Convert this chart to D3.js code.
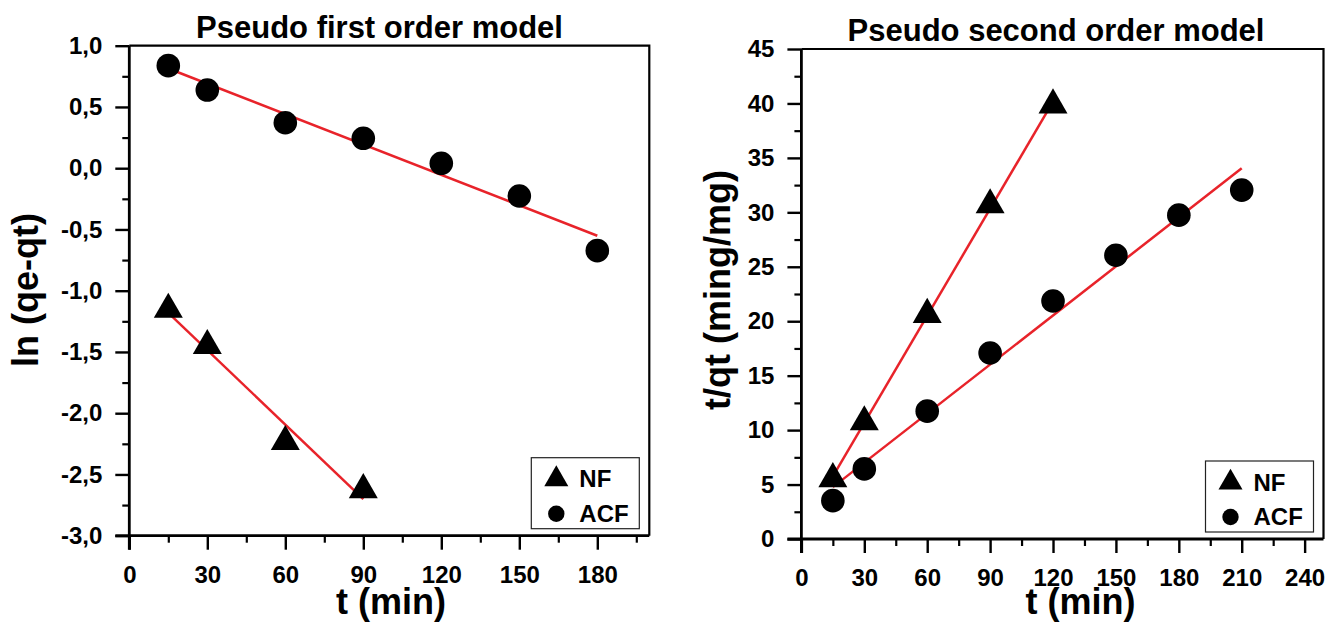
<!DOCTYPE html>
<html>
  <head>
    <meta charset="utf-8">
    <script type="text/javascript" src="https://cdn.jsdelivr.net/npm/d3@7"></script>
    <style type="text/css">
      body {
        margin: 0;
        background: #ffffff;
      }
      svg text {
        font-family: "Liberation Sans", Arial, sans-serif;
        font-weight: bold;
        fill: #000000;
      }
    </style>
  </head>
  <body>
    <script type="text/javascript">

      // ---- data ----
      // pseudo first order: ln(qe-qt) against t
      var pfoNFTime = [15, 30, 60, 90];
      var pfoNFValue = [-1.153, -1.449, -2.233, -2.625];
      var pfoACFTime = [15, 30, 60, 90, 120, 150, 180];
      var pfoACFValue = [0.837, 0.638, 0.371, 0.244, 0.04, -0.227, -0.673];

      // pseudo second order: t/qt against t
      var psoNFTime = [15, 30, 60, 90, 120];
      var psoNFValue = [5.53, 10.75, 20.61, 30.68, 39.85];
      var psoACFTime = [15, 30, 60, 90, 120, 150, 180, 210];
      var psoACFValue = [3.52, 6.44, 11.74, 17.08, 21.86, 26.06, 29.74, 32.04];

      // tick labels
      var pfoXTicks = [0, 30, 60, 90, 120, 150, 180];
      var pfoYTicks = [-3, -2.5, -2, -1.5, -1, -0.5, 0, 0.5, 1];
      var psoXTicks = [0, 30, 60, 90, 120, 150, 180, 210, 240];
      var psoYTicks = [0, 5, 10, 15, 20, 25, 30, 35, 40, 45];

      var seriesNames = ["NF", "ACF"];

      var width = 1327;
      var height = 622;
      var fitColor = "#e8232a";

      var svg = d3.select("body")
                  .append("svg")
                  .attr("width", width)
                  .attr("height", height);

      // least squares line through the points, returns [[x0,y0],[x1,y1]]
      const fitLine = function(xs, ys){
          let mx = d3.mean(xs);
          let my = d3.mean(ys);
          let sxy = 0;
          let sxx = 0;
          for (let i = 0; i < xs.length; i++){
              sxy += (xs[i] - mx) * (ys[i] - my);
              sxx += (xs[i] - mx) * (xs[i] - mx);
          }
          let slope = sxy / sxx;
          let x0 = d3.min(xs);
          let x1 = d3.max(xs);
          return [[x0, my + slope * (x0 - mx)], [x1, my + slope * (x1 - mx)]];
      };

      // minor ticks sit halfway between the major ones
      const halfSteps = function(ticks, extra){
          let out = [];
          let step = ticks[1] - ticks[0];
          let n = ticks.length - 1 + (extra || 0);
          for (let i = 0; i < n; i++){
              out.push(ticks[0] + step * (i + 0.5));
          }
          return out;
      };

      var commaFormat = function(d){
          return d3.format(".1f")(d).replace(".", ",").replace("−", "-");
      };

      const drawPanel = function(p){
          var xScale = d3.scaleLinear()
                         .domain(p.xDomain)
                         .range([p.left, p.right]);
          var yScale = d3.scaleLinear()
                         .domain(p.yDomain)
                         .range([p.bottom, p.top]);

          var g = svg.append("g");

          // top and right frame lines
          g.append("path")
           .attr("d", "M" + p.left + "," + p.top + "H" + p.right + "V" + p.bottom)
           .attr("fill", "none")
           .attr("stroke", "#000")
           .attr("stroke-width", 2.2);

          // minor ticks first, majors with labels on top
          g.append("g")
           .attr("transform", "translate(0," + p.bottom + ")")
           .call(d3.axisBottom(xScale).tickValues(p.xMinor).tickSize(7).tickFormat(""))
           .call(function(a){ a.select(".domain").remove(); })
           .selectAll("line").attr("stroke-width", 2.2);
          g.append("g")
           .attr("transform", "translate(" + p.left + ",0)")
           .call(d3.axisLeft(yScale).tickValues(p.yMinor).tickSize(7).tickFormat(""))
           .call(function(a){ a.select(".domain").remove(); })
           .selectAll("line").attr("stroke-width", 2.2);

          var xAxis = g.append("g")
                       .attr("transform", "translate(0," + p.bottom + ")")
                       .call(d3.axisBottom(xScale)
                               .tickValues(p.xTicks)
                               .tickSize(14)
                               .tickSizeOuter(0)
                               .tickPadding(16)
                               .tickFormat(d3.format("d")));
          var yAxis = g.append("g")
                       .attr("transform", "translate(" + p.left + ",0)")
                       .call(d3.axisLeft(yScale)
                               .tickValues(p.yTicks)
                               .tickSize(14)
                               .tickSizeOuter(0)
                               .tickPadding(13)
                               .tickFormat(p.yFormat));
          [xAxis, yAxis].forEach(function(a){
              a.select(".domain").attr("stroke-width", 2.8);
              a.selectAll("line").attr("stroke-width", 2.4);
              a.selectAll("text")
               .style("font-size", "24px")
               .style("font-family", "'Liberation Sans', Arial, sans-serif")
               .style("font-weight", "bold")
               .attr("fill", "#000");
          });
          // extend the domain lines so the corner is closed
          xAxis.select(".domain").attr("d", "M" + (p.left - 14) + ",0H" + p.right);
          yAxis.select(".domain").attr("d", "M0," + (p.bottom + 14) + "V" + p.top);

          // fitted lines
          var line = d3.line()
                       .x(function(d){ return xScale(d[0]); })
                       .y(function(d){ return yScale(d[1]); });
          [fitLine(p.nfT, p.nfV), fitLine(p.acfT, p.acfV)].forEach(function(f){
              g.append("path")
               .attr("d", line(f))
               .attr("fill", "none")
               .attr("stroke", fitColor)
               .attr("stroke-width", 2.5);
          });

          // data markers
          var tri = d3.symbol().type(d3.symbolTriangle).size(364);
          g.selectAll(".nf")
           .data(d3.zip(p.nfT, p.nfV))
           .enter()
           .append("path")
           .attr("d", tri)
           .attr("transform", function(d){
               return "translate(" + xScale(d[0]) + "," + yScale(d[1]) + ")";
           })
           .attr("fill", "#000");
          g.selectAll(".acf")
           .data(d3.zip(p.acfT, p.acfV))
           .enter()
           .append("circle")
           .attr("cx", function(d){ return xScale(d[0]); })
           .attr("cy", function(d){ return yScale(d[1]); })
           .attr("r", 11.8)
           .attr("fill", "#000");

          // legend box in the bottom right corner
          var lw = 108, lh = 71;
          var lx = p.right - 10 - lw;
          var ly = p.bottom - 7 - lh;
          var legend = g.append("g").attr("transform", "translate(" + lx + "," + ly + ")");
          legend.append("rect")
                .attr("width", lw)
                .attr("height", lh)
                .attr("fill", "#fff")
                .attr("stroke", "#222")
                .attr("stroke-width", 1.2);
          legend.append("path")
                .attr("d", d3.symbol().type(d3.symbolTriangle).size(250)())
                .attr("transform", "translate(25,21.5)")
                .attr("fill", "#000");
          legend.append("circle")
                .attr("cx", 25)
                .attr("cy", 56)
                .attr("r", 8.2)
                .attr("fill", "#000");
          legend.selectAll(".lt")
                .data(seriesNames)
                .enter()
                .append("text")
                .attr("x", 48)
                .attr("y", function(d, i){ return i == 0 ? 29.5 : 64; })
                .style("font-size", "24px")
                .text(function(d){ return d; });

          // title
          svg.append("text")
             .attr("x", p.titleX)
             .attr("y", p.titleY)
             .style("text-anchor", "middle")
             .style("font-size", "31px")
             .text(p.title);
          // x label
          svg.append("text")
             .attr("x", p.xLabelX)
             .attr("y", 614)
             .style("text-anchor", "middle")
             .style("font-size", "36px")
             .text("t (min)");
          // y label
          svg.append("text")
             .attr("transform", "translate(" + p.yLabelX + ",290) rotate(-90)")
             .style("text-anchor", "middle")
             .style("font-size", "36px")
             .text(p.yLabel);
      };

      drawPanel({
          left: 129.3, right: 649.3, top: 45.7, bottom: 535.7,
          xDomain: [0, 200], yDomain: [-3, 1],
          xTicks: pfoXTicks, xMinor: halfSteps(pfoXTicks, 1),
          yTicks: pfoYTicks, yMinor: halfSteps(pfoYTicks),
          yFormat: commaFormat,
          nfT: pfoNFTime, nfV: pfoNFValue,
          acfT: pfoACFTime, acfV: pfoACFValue,
          title: "Pseudo first order model", titleX: 379.5, titleY: 38.3,
          xLabelX: 391, yLabelX: 38, yLabel: "ln (qe-qt)"
      });

      drawPanel({
          left: 801.4, right: 1323.5, top: 49, bottom: 539,
          xDomain: [0, 249], yDomain: [0, 45],
          xTicks: psoXTicks, xMinor: halfSteps(psoXTicks),
          yTicks: psoYTicks, yMinor: halfSteps(psoYTicks),
          yFormat: d3.format("d"),
          nfT: psoNFTime, nfV: psoNFValue,
          acfT: psoACFTime, acfV: psoACFValue,
          title: "Pseudo second order model", titleX: 1056, titleY: 40.7,
          xLabelX: 1080.5, yLabelX: 730, yLabel: "t/qt (ming/mg)"
      });
    </script>
  </body>
</html>
